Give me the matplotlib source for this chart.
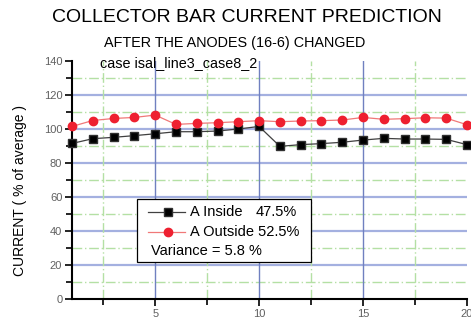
import numpy as np
import matplotlib
matplotlib.use('Agg')
import matplotlib.pyplot as plt
from matplotlib.patches import Rectangle
from matplotlib.lines import Line2D

plt.rcParams['font.family'] = ['Liberation Sans', 'DejaVu Sans']

# collector bars 1..20, current in % of average
bars = np.arange(1, 21)
inside = [91.5, 94.3, 95.1, 96.1, 97.2, 98.4, 98.4, 98.8, 100.0, 101.5,
          89.8, 90.8, 91.4, 92.2, 93.5, 94.5, 94.1, 94.1, 93.9, 90.8]
outside = [101.5, 105.0, 106.2, 106.8, 108.2, 102.7, 103.3, 103.7, 104.3, 104.9,
           104.3, 104.7, 104.9, 105.3, 106.8, 105.7, 106.1, 106.6, 106.4, 102.5]
inside_share = '47.5%'
outside_share = '52.5%'
variance = 'Variance = 5.8 %'

fig = plt.figure(figsize=(4.71, 3.22), dpi=100)
ax = fig.add_axes([72/471, 1-299/322, 395/471, 238/322])

ax.set_xlim(1, 20)
ax.set_ylim(0, 140)
ax.set_xticks([5, 10, 15, 20])
ax.set_xticks([2.5, 7.5, 12.5, 17.5], minor=True)
ax.set_yticks(np.arange(0, 141, 20))
ax.set_yticks(np.arange(10, 140, 20), minor=True)

# grid: blue at major, green dashed at minor
for y in np.arange(20, 121, 20):
    ax.axhline(y, color='#a4b0e0', lw=1.6, zorder=0)
for y in np.arange(10, 140, 20):
    ax.axhline(y, color='#b4e0a4', lw=1.0, ls=(0, (7, 2, 1, 2)), zorder=0)
for x in [5, 10, 15]:
    ax.axvline(x, color='#7080c0', lw=1.0, zorder=0)
for x in [2.5, 7.5, 12.5, 17.5]:
    ax.axvline(x, color='#b4e0a4', lw=1.0, ls=(0, (7, 2, 1, 2)), zorder=0)

ax.plot(bars, inside, color='#404040', lw=0.9, marker='s', ms=5.5,
        mfc='black', mec='#303030', zorder=3, clip_on=False)
ax.plot(bars, outside, color='#f07878', lw=0.9, marker='o', ms=6,
        mfc='#ee2030', mec='#ee2030', zorder=3, clip_on=False)

for s in ['top', 'right']:
    ax.spines[s].set_visible(False)
for s in ['left', 'bottom']:
    ax.spines[s].set_linewidth(1.5)
ax.tick_params(which='both', direction='out', width=1.2, labelsize=8,
               labelcolor='#606060', pad=2)
ax.tick_params(which='major', length=5)
ax.tick_params(which='minor', length=4)

ax.set_ylabel('CURRENT ( % of average )', fontsize=10)
ax.yaxis.set_label_coords(-0.114, 0.455)

fig.text(0.525, 1-17/322, 'COLLECTOR BAR CURRENT PREDICTION', ha='center',
         va='center', fontsize=14)
fig.text(0.498, 1-43.5/322, 'AFTER THE ANODES (16-6) CHANGED', ha='center',
         va='center', fontsize=10.4)
fig.text(100/471, 1-63/322, 'case isal_line3_case8_2', ha='left',
         va='center', fontsize=10.4)

# legend box
tr = ax.transAxes
ax.add_patch(Rectangle((0.1646, 0.155), 0.440, 0.265, transform=tr,
                       fc='white', ec='black', lw=0.9, zorder=5))
rows = [0.367, 0.283, 0.203]
ax.add_line(Line2D([0.192, 0.286], [rows[0]] * 2, transform=tr, color='#404040',
                   lw=0.9, zorder=6))
ax.add_line(Line2D([0.243], [rows[0]], transform=tr, marker='s', ms=5.5,
                   mfc='black', mec='#303030', zorder=6))
ax.add_line(Line2D([0.192, 0.286], [rows[1]] * 2, transform=tr, color='#f07878',
                   lw=0.9, zorder=6))
ax.add_line(Line2D([0.243], [rows[1]], transform=tr, marker='o', ms=6,
                   mfc='#ee2030', mec='#ee2030', zorder=6))
ax.text(0.299, rows[0], 'A Inside', transform=tr, va='center', fontsize=10.5, zorder=7)
ax.text(0.569, rows[0], inside_share, transform=tr, va='center', ha='right',
        fontsize=10.5, zorder=7)
ax.text(0.299, rows[1], 'A Outside ' + outside_share, transform=tr, va='center',
        fontsize=10.5, zorder=7)
ax.text(0.199, rows[2], variance, transform=tr, va='center', fontsize=10.5, zorder=7)

fig.savefig('out.png', dpi=100)
